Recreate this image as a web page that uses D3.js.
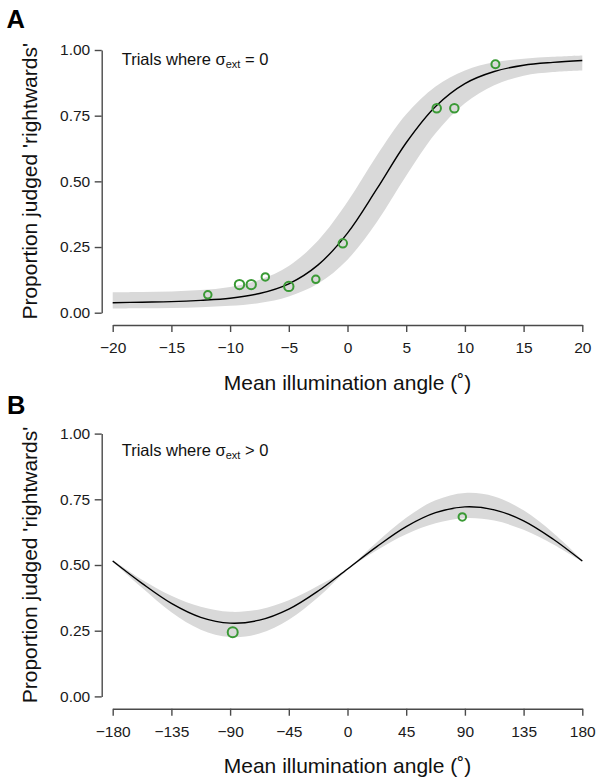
<!DOCTYPE html>
<html>
<head>
<meta charset="utf-8">
<script src="https://cdn.jsdelivr.net/npm/d3@7"></script>
<style>
  html, body { margin: 0; padding: 0; background: #fff; }
  svg { display: block; font-family: "Liberation Sans", Arial, Helvetica, sans-serif; }
</style>
</head>
<body>
<svg id="chart" width="597" height="782"></svg>
<script>
// ---- Panel A: sigma_ext = 0 ----
const angleA = [-20, -17.5, -15, -12.5, -10, -7.5, -5, -2.5, 0, 2.5, 5, 7.5, 10, 12.5, 15, 17.5, 20];
const fitA   = [0.038, 0.040, 0.042, 0.047, 0.055, 0.073, 0.110, 0.182, 0.303, 0.471, 0.647, 0.785, 0.872, 0.918, 0.942, 0.953, 0.960];
const bandLoA = [0.016, 0.017, 0.018, 0.021, 0.026, 0.037, 0.062, 0.111, 0.202, 0.345, 0.521, 0.683, 0.797, 0.866, 0.902, 0.916, 0.922];
const bandHiA = [0.078, 0.079, 0.081, 0.086, 0.098, 0.125, 0.178, 0.275, 0.422, 0.598, 0.755, 0.861, 0.922, 0.953, 0.967, 0.974, 0.979];
const obsAngleA = [-11.9, -9.2, -8.2, -7.0, -5.0, -2.7, -0.4, 7.6, 9.1, 12.6];
const obsPropA  = [0.068, 0.107, 0.107, 0.136, 0.100, 0.127, 0.264, 0.778, 0.778, 0.946];
const obsCountA = [14, 22, 22, 14, 22, 14, 18, 18, 18, 16];
const ticksA = [-20, -15, -10, -5, 0, 5, 10, 15, 20];

// ---- Panel B: sigma_ext > 0 ----
const angleB = [-180, -157.5, -135, -112.5, -90, -67.5, -45, -22.5, 0, 22.5, 45, 67.5, 90, 112.5, 135, 157.5, 180];
const fitB   = [0.515, 0.430, 0.354, 0.301, 0.279, 0.290, 0.332, 0.401, 0.485, 0.570, 0.646, 0.699, 0.721, 0.710, 0.668, 0.599, 0.515];
const bandLoB = [0.512, 0.413, 0.320, 0.254, 0.226, 0.239, 0.292, 0.377, 0.481, 0.556, 0.617, 0.659, 0.678, 0.669, 0.634, 0.579, 0.512];
const bandHiB = [0.519, 0.444, 0.383, 0.341, 0.322, 0.331, 0.366, 0.421, 0.488, 0.587, 0.680, 0.746, 0.774, 0.761, 0.708, 0.623, 0.519];
const obsAngleB = [-88, 88];
const obsPropB  = [0.244, 0.683];
const obsCountB = [25, 14];
const ticksB = [-180, -135, -90, -45, 0, 45, 90, 135, 180];

const yTicks = [0, 0.25, 0.5, 0.75, 1];

const svg = d3.select("#chart");
const axisColor = "#4a4a4a";
const pointColor = "#3a9a35";
const rScale = d3.scaleSqrt().domain([0, 25]).range([0, 5]);
const fmtX = d => (d < 0 ? "\u2212" + Math.abs(d) : String(d));

function panel(opts) {
  const { x, y, angle, fit, lo, hi, obsX, obsY, obsN, xTicks, letter, letterPos, legendY, legendRel } = opts;
  const g = svg.append("g");

  // credible band
  const area = d3.area()
    .x((d, i) => x(angle[i]))
    .y0((d, i) => y(lo[i]))
    .y1((d, i) => y(hi[i]))
    .curve(d3.curveCatmullRom);
  g.append("path").datum(angle).attr("d", area).attr("fill", "#d9d9d9");

  // fitted curve
  const line = d3.line()
    .x((d, i) => x(angle[i]))
    .y((d, i) => y(fit[i]))
    .curve(d3.curveCatmullRom);
  g.append("path").datum(angle).attr("d", line)
    .attr("fill", "none").attr("stroke", "#000").attr("stroke-width", 1.4);

  // observed proportions
  g.selectAll("circle.obs").data(obsX).join("circle")
    .attr("class", "obs")
    .attr("cx", (d) => x(d))
    .attr("cy", (d, i) => y(obsY[i]))
    .attr("r", (d, i) => rScale(obsN[i]))
    .attr("fill", "none")
    .attr("stroke", pointColor)
    .attr("stroke-width", 2);

  // y axis
  const yAxis = g.append("g")
    .attr("transform", "translate(101.7,0)")
    .call(d3.axisLeft(y).tickValues(yTicks).tickFormat(d3.format(".2f"))
      .tickSize(7).tickSizeOuter(0).tickPadding(4.5));
  // x axis
  const yBase = y(0) + 12.3;
  const xAxis = g.append("g")
    .attr("transform", `translate(0,${yBase})`)
    .call(d3.axisBottom(x).tickValues(xTicks).tickFormat(fmtX)
      .tickSize(7).tickSizeOuter(0).tickPadding(10));

  [yAxis, xAxis].forEach(a => {
    a.select(".domain").attr("stroke", axisColor).attr("stroke-width", 1.4);
    a.selectAll(".tick line").attr("stroke", axisColor).attr("stroke-width", 1.4);
    a.selectAll(".tick text").attr("fill", "#1a1a1a")
      .style("font-size", "15.5px").style("font-family", "Liberation Sans, Arial, sans-serif");
  });

  // axis titles
  g.append("text")
    .attr("x", (x.range()[0] + x.range()[1]) / 2)
    .attr("y", yBase + 64.5)
    .attr("text-anchor", "middle")
    .attr("fill", "#111")
    .style("font-size", "21px")
    .text("Mean illumination angle (\u02DA)");

  g.append("text")
    .attr("transform", `translate(36.5,${(y(0) + y(1)) / 2}) rotate(-90)`)
    .attr("text-anchor", "middle")
    .attr("fill", "#111")
    .style("font-size", "21px")
    .text("Proportion judged 'rightwards'");

  // panel letter
  g.append("text")
    .attr("x", letterPos[0]).attr("y", letterPos[1])
    .attr("fill", "#000")
    .style("font-size", "25.5px").style("font-weight", "bold")
    .text(letter);

  // legend note
  const t = g.append("text")
    .attr("x", 121.7).attr("y", legendY)
    .attr("fill", "#111")
    .style("font-size", "16.5px");
  t.append("tspan").text("Trials where \u03C3");
  t.append("tspan").attr("dy", 3).style("font-size", "11px").text("ext");
  t.append("tspan").attr("dy", -3).text(" " + legendRel + " 0");
}

panel({
  x: d3.scaleLinear().domain([-20, 20]).range([112.7, 582.3]),
  y: d3.scaleLinear().domain([0, 1]).range([312.7, 50]),
  angle: angleA, fit: fitA, lo: bandLoA, hi: bandHiA,
  obsX: obsAngleA, obsY: obsPropA, obsN: obsCountA,
  xTicks: ticksA, letter: "A", letterPos: [6.5, 28.3], legendY: 65, legendRel: "="
});

panel({
  x: d3.scaleLinear().domain([-180, 180]).range([112.7, 582.3]),
  y: d3.scaleLinear().domain([0, 1]).range([696.4, 433.6]),
  angle: angleB, fit: fitB, lo: bandLoB, hi: bandHiB,
  obsX: obsAngleB, obsY: obsPropB, obsN: obsCountB,
  xTicks: ticksB, letter: "B", letterPos: [7, 414], legendY: 455.5, legendRel: ">"
});
</script>
</body>
</html>
